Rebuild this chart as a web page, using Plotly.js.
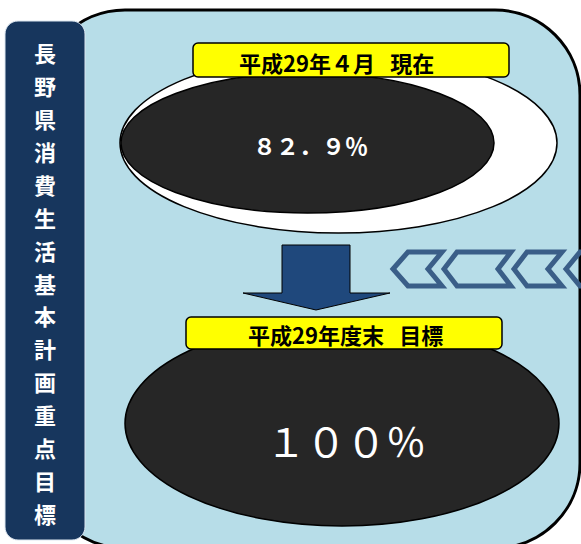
<!DOCTYPE html>
<html>
<head>
<meta charset="utf-8">
<script src="https://cdn.plot.ly/plotly-3.0.1.min.js"></script>
<style>
  html, body { margin: 0; padding: 0; background: #ffffff; }
  #chart { width: 581px; height: 544px; }
</style>
</head>
<body>
<div id="chart"></div>
<script>
// ---- data ----
const sideTitle = "長野県消費生活基本計画重点目標";
const stageLabels = ["平成29年４月 現在", "平成29年度末 目標"];
const stageValues = [82.9, 100];

// ---- helpers ----
function toFullWidth(s) {
  return s.replace(/[\x21-\x7e]/g, c => String.fromCharCode(c.charCodeAt(0) + 0xFEE0));
}
function roundRect(x0, y0, x1, y1, r) {
  const k = 0.5523 * r;
  return `M${x0 + r},${y0} L${x1 - r},${y0} ` +
    `C${x1 - r + k},${y0} ${x1},${y0 + r - k} ${x1},${y0 + r} ` +
    `L${x1},${y1 - r} C${x1},${y1 - r + k} ${x1 - r + k},${y1} ${x1 - r},${y1} ` +
    `L${x0 + r},${y1} C${x0 + r - k},${y1} ${x0},${y1 - r + k} ${x0},${y1 - r} ` +
    `L${x0},${y0 + r} C${x0},${y0 + r - k} ${x0 + r - k},${y0} ${x0 + r},${y0} Z`;
}
function poly(pts) {
  return "M" + pts.map(p => p.join(",")).join(" L") + " Z";
}

const JP = "Noto Sans CJK JP, Noto Sans, sans-serif";
const NAVY = "#17365D";
const PANEL = "#B7DDE8";
const ARROW = "#1F487C";
const CHEV = "#3A5E88";

const shapes = [];
// light blue panel
shapes.push({ type: "path", path: roundRect(40, 10, 580, 548, 85),
  fillcolor: PANEL, line: { color: "#000000", width: 3 } });
// navy side bar
shapes.push({ type: "path", path: roundRect(5, 21, 85, 540, 13),
  fillcolor: NAVY, line: { color: "#DCE6F0", width: 1 } });
// top: white ring ellipse + dark ellipse
shapes.push({ type: "circle", x0: 120, x1: 557, y0: 53, y1: 233,
  fillcolor: "#FFFFFF", line: { color: "#000000", width: 1.5 } });
shapes.push({ type: "circle", x0: 121, x1: 494, y0: 73, y1: 213,
  fillcolor: "#262626", line: { color: "#000000", width: 1.5 } });
// yellow label 1
shapes.push({ type: "path", path: roundRect(193, 43, 509, 77, 5),
  fillcolor: "#FFFF00", line: { color: "#000000", width: 1.5 } });
// down arrow
shapes.push({ type: "path",
  path: poly([[282, 245], [350, 245], [350, 293], [390, 293], [316, 310], [243, 293], [282, 293]]),
  fillcolor: ARROW, line: { color: "#000000", width: 1 } });
// chevrons
const chevrons = [
  [[393, 269], [408, 252], [442, 252], [428, 269], [442, 286], [408, 286]],
  [[444, 269], [457, 252], [511, 252], [498, 269], [511, 286], [457, 286]],
  [[514, 269], [527, 252], [562, 252], [548, 269], [562, 286], [527, 286]],
  [[566, 269], [580, 252], [615, 252], [600, 269], [615, 286], [580, 286]]
];
chevrons.forEach(c => shapes.push({ type: "path", path: poly(c),
  fillcolor: "rgba(0,0,0,0)", line: { color: CHEV, width: 5 } }));
// bottom dark ellipse
shapes.push({ type: "circle", x0: 125, x1: 559, y0: 321, y1: 526,
  fillcolor: "#262626", line: { color: "#000000", width: 1.5 } });
// yellow label 2
shapes.push({ type: "path", path: roundRect(186, 317, 502, 349, 5),
  fillcolor: "#FFFF00", line: { color: "#000000", width: 1.5 } });

const annotations = [];
// vertical side title
sideTitle.split("").forEach((ch, i) => {
  annotations.push({ x: 45, y: 52 + i * 32.93, xref: "x", yref: "y", text: "<b>" + ch + "</b>",
    showarrow: false, xanchor: "center", yanchor: "middle",
    font: { family: JP, size: 22, color: "#FFFFFF" } });
});
// stage labels
const labelPos = [[336, 62], [345, 334]];
stageLabels.forEach((t, i) => {
  annotations.push({ x: labelPos[i][0], y: labelPos[i][1], xref: "x", yref: "y",
    text: "<b>" + t.replace(" ", "\u2002\u2009") + "</b>", showarrow: false,
    xanchor: "center", yanchor: "middle",
    font: { family: JP, size: 22, color: "#000000" } });
});
// values
annotations.push({ x: 310, y: 145, xref: "x", yref: "y",
  text: "<b>" + toFullWidth(stageValues[0].toFixed(1) + "%") + "</b>",
  showarrow: false, xanchor: "center", yanchor: "middle",
  font: { family: JP, size: 23, color: "#FFFFFF" } });
annotations.push({ x: 346, y: 440, xref: "x", yref: "y",
  text: toFullWidth(String(stageValues[1]) + "%"),
  showarrow: false, xanchor: "center", yanchor: "middle",
  font: { family: JP, size: 40, color: "#FFFFFF" } });

const layout = {
  width: 581, height: 544,
  margin: { l: 0, r: 0, t: 0, b: 0, pad: 0 },
  paper_bgcolor: "#FFFFFF", plot_bgcolor: "#FFFFFF",
  showlegend: false,
  xaxis: { range: [0, 581], visible: false, fixedrange: true },
  yaxis: { range: [544, 0], visible: false, fixedrange: true },
  shapes: shapes,
  annotations: annotations
};

Plotly.newPlot("chart", [], layout, { staticPlot: true, displayModeBar: false });
</script>
</body>
</html>
